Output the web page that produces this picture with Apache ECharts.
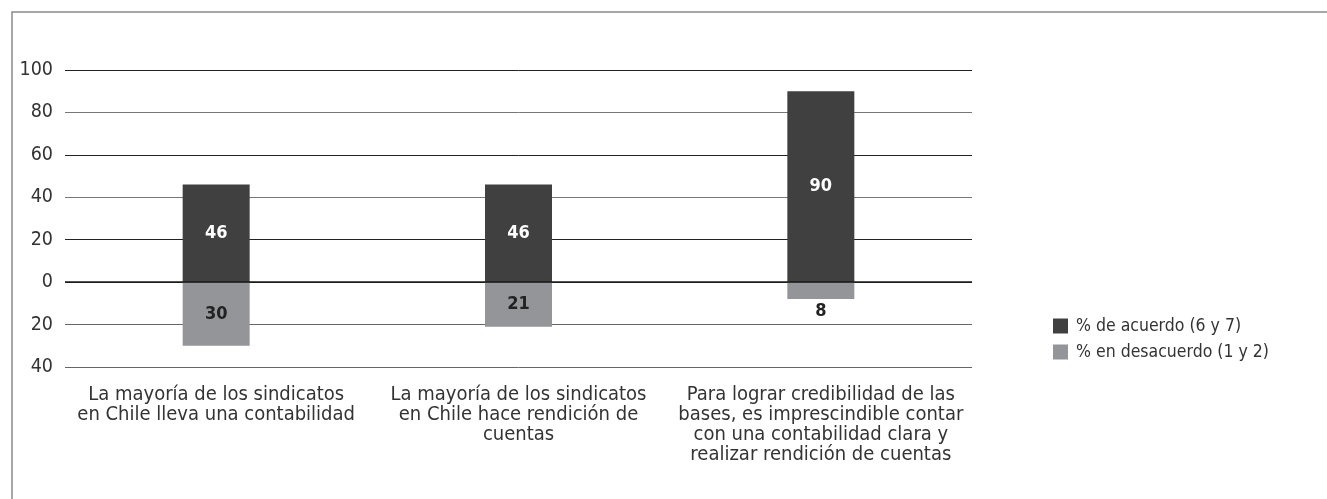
<!DOCTYPE html>
<html><head><meta charset="utf-8">
<script src="https://cdn.jsdelivr.net/npm/echarts@6/dist/echarts.min.js"></script>
<style>html,body{margin:0;padding:0;background:#fff}#c{width:1327px;height:499px}</style>
</head><body><div id="c"></div>
<script>
const categories = [
  'La mayoría de los sindicatos\nen Chile lleva una contabilidad',
  'La mayoría de los sindicatos\nen Chile hace rendición de\ncuentas',
  'Para lograr credibilidad de las\nbases, es imprescindible contar\ncon una contabilidad clara y\nrealizar rendición de cuentas'
];
const acuerdo = [46, 46, 90];
const desacuerdo = [30, 21, 8];
const seriesNames = ['% de acuerdo (6 y 7)', '% en desacuerdo (1 y 2)'];
const FONT = '"DejaVu Sans Condensed", "Liberation Sans Narrow", sans-serif';

const chart = echarts.init(document.getElementById('c'), null, {renderer: 'canvas'});
chart.setOption({
  animation: false,
  textStyle: {fontFamily: FONT},
  graphic: [{
    type: 'rect', silent: true, z: -1,
    shape: {x: 12, y: 12, width: 1400, height: 600},
    style: {fill: 'none', stroke: '#8a8a8a', lineWidth: 1.5}
  }],
  grid: {left: 65, right: 355, top: 70, bottom: 132, containLabel: false},
  legend: {
    orient: 'vertical', left: 1048, top: 312, itemGap: 8,
    itemWidth: 15, itemHeight: 15, icon: 'rect',
    textStyle: {fontFamily: FONT, fontSize: 17.5, color: '#333', padding: [0, 0, 0, 3]},
    data: seriesNames
  },
  xAxis: {
    type: 'category', data: categories,
    axisLine: {show: false}, axisTick: {show: false},
    axisLabel: {fontFamily: FONT, fontSize: 20, color: '#333', lineHeight: 20, margin: 18, interval: 0}
  },
  yAxis: {
    type: 'value', min: -40, max: 100, interval: 20,
    axisLine: {show: false}, axisTick: {show: false},
    axisLabel: {fontFamily: FONT, fontSize: 19.5, color: '#333', margin: 12,
      formatter: v => String(Math.abs(v))},
    splitLine: {lineStyle: {color: ['#666', '#666', '#222', '#222', '#777', '#222', '#777', '#222'], width: 1}}
  },
  series: [
    {
      name: seriesNames[0], type: 'bar', stack: 's', barWidth: 67,
      itemStyle: {color: '#404040'},
      label: {show: true, position: 'inside', color: '#fff', fontWeight: 'bold', fontSize: 18, fontFamily: FONT},
      data: acuerdo,
      markLine: {silent: true, symbol: 'none', label: {show: false},
        lineStyle: {color: '#1a1a1a', width: 1.6, type: 'solid'}, data: [{yAxis: 0}]}
    },
    {
      name: seriesNames[1], type: 'bar', stack: 's', barWidth: 67,
      itemStyle: {color: '#939598'},
      label: {show: true, position: 'inside', color: '#222', fontWeight: 'bold', fontSize: 18, fontFamily: FONT,
        formatter: p => String(Math.abs(p.value))},
      data: desacuerdo.map(v => v < 15
        ? {value: -v, label: {position: 'bottom', distance: 3}}
        : {value: -v})
    }
  ]
});
</script></body></html>
